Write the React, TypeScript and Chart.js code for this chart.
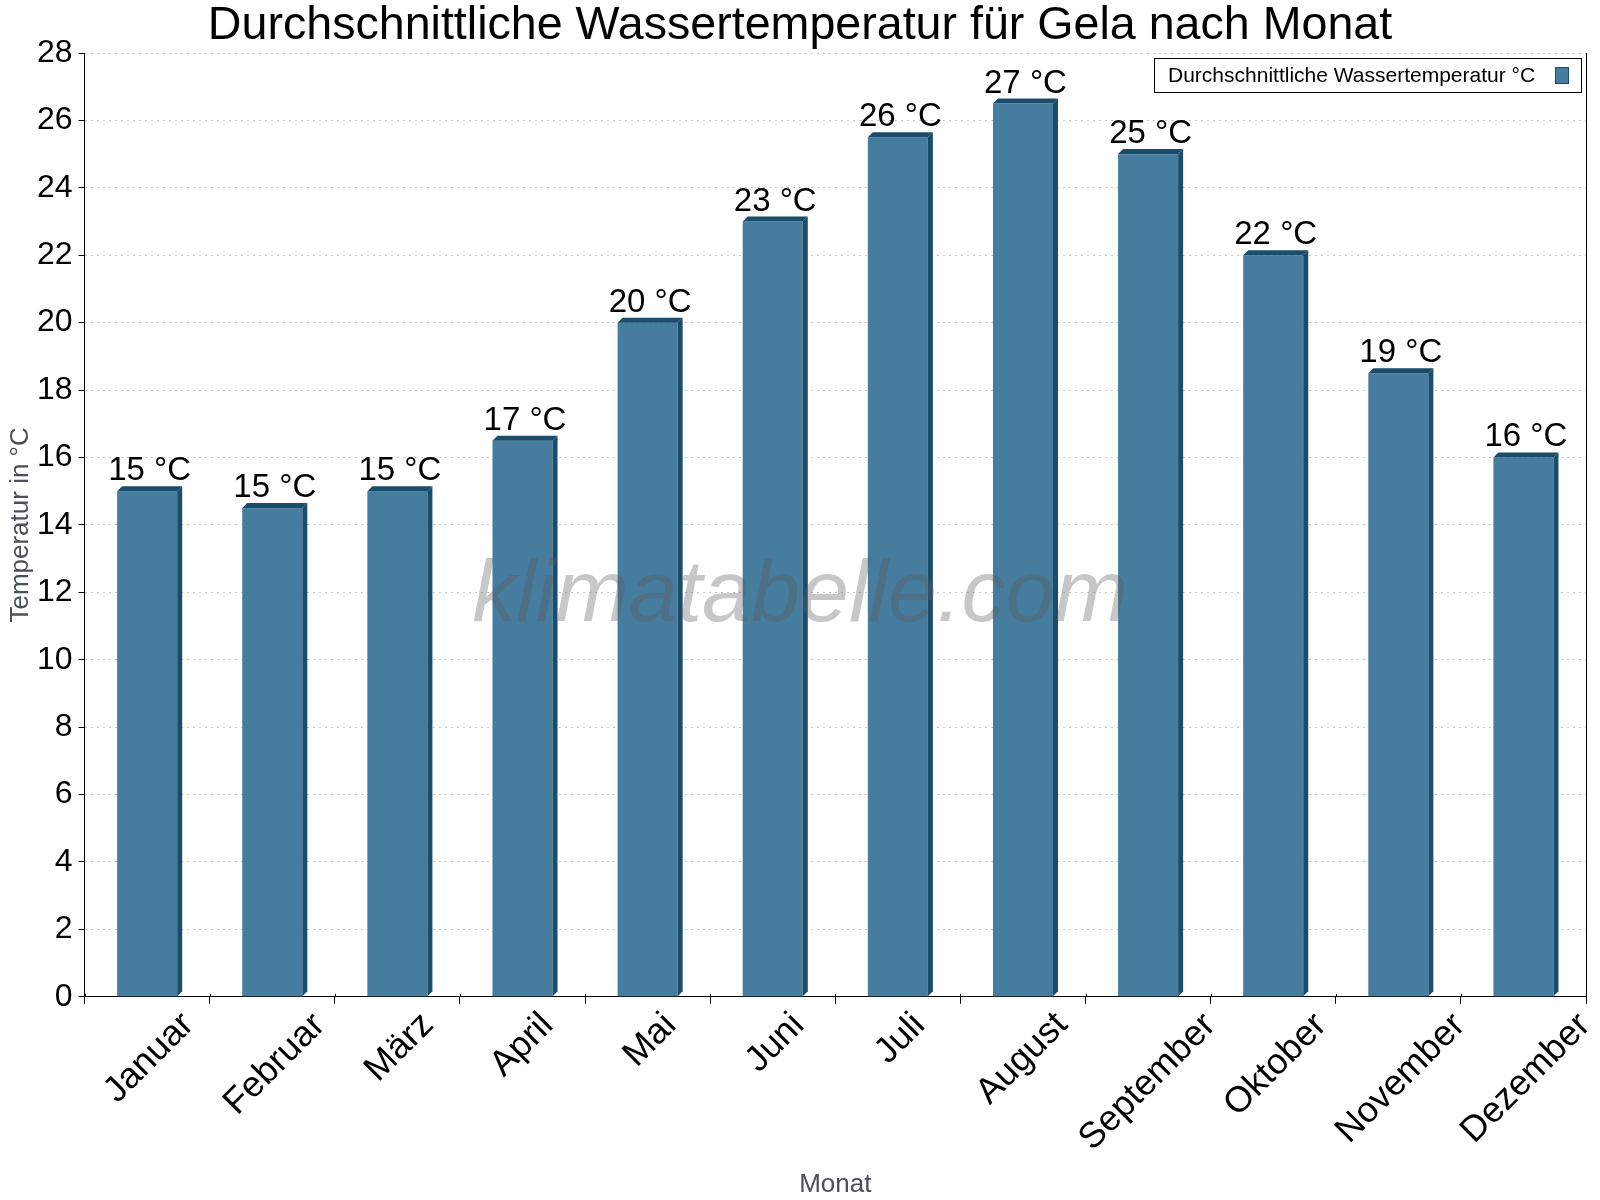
import React, { useEffect, useRef } from 'react';
import { Chart, registerables, ChartConfiguration, Plugin } from 'chart.js';

Chart.register(...registerables);

const months = [
  'Januar', 'Februar', 'März', 'April', 'Mai', 'Juni',
  'Juli', 'August', 'September', 'Oktober', 'November', 'Dezember',
];
const waterTemp = [15, 14.5, 15, 16.5, 20, 23, 25.5, 26.5, 25, 22, 18.5, 16];
const tempLabels = ['15 °C', '15 °C', '15 °C', '17 °C', '20 °C', '23 °C', '26 °C', '27 °C', '25 °C', '22 °C', '19 °C', '16 °C'];
const seriesName = 'Durchschnittliche Wassertemperatur °C';
const chartTitle = 'Durchschnittliche Wassertemperatur für Gela nach Monat';

const FACE = '#467c9e';
const DARK = '#1a4c6c';
const FONT = '"Liberation Sans", Arial, sans-serif';
const DEPTH = 5;
const S45 = Math.SQRT1_2;

// bars with a small 3D edge, value labels, watermark, legend, title, centred rotated month labels
const bar3d: Plugin<'bar'> = {
  id: 'bar3d',
  afterDatasetsDraw(chart) {
    const ctx = chart.ctx;
    const meta = chart.getDatasetMeta(0);
    const d = DEPTH;
    ctx.save();
    meta.data.forEach((el: any, i) => {
      const { x, y, base, width } = el.getProps(['x', 'y', 'base', 'width'], true);
      const l = x - width / 2;
      const r = x + width / 2;
      ctx.fillStyle = FACE;
      ctx.fillRect(l, y, width, base - y);
      ctx.fillStyle = DARK;
      ctx.beginPath();
      ctx.moveTo(l, y);
      ctx.lineTo(l + d, y - d);
      ctx.lineTo(r + d, y - d);
      ctx.lineTo(r, y);
      ctx.closePath();
      ctx.fill();
      ctx.beginPath();
      ctx.moveTo(r, y);
      ctx.lineTo(r + d, y - d);
      ctx.lineTo(r + d, base - d);
      ctx.lineTo(r, base);
      ctx.closePath();
      ctx.fill();

      ctx.fillStyle = '#000';
      ctx.font = `33px ${FONT}`;
      ctx.textAlign = 'center';
      ctx.textBaseline = 'alphabetic';
      ctx.fillText(tempLabels[i], x + d / 2, y - d - 6);
    });

    ctx.font = `italic 88px ${FONT}`;
    ctx.fillStyle = 'rgba(90,90,90,0.34)';
    ctx.textAlign = 'center';
    ctx.textBaseline = 'middle';
    ctx.fillText('klimatabelle.com', chart.width / 2, 597);
    ctx.restore();
  },
  afterDraw(chart) {
    const ctx = chart.ctx;
    const area = chart.chartArea;
    ctx.save();

    // title, centred on the whole canvas
    ctx.font = `46.6px ${FONT}`;
    ctx.fillStyle = '#000';
    ctx.textAlign = 'center';
    ctx.textBaseline = 'alphabetic';
    ctx.fillText(chartTitle, chart.width / 2, 39);

    // right frame line
    ctx.strokeStyle = '#000';
    ctx.lineWidth = 1;
    ctx.beginPath();
    ctx.moveTo(Math.round(area.right) + 0.5, area.top);
    ctx.lineTo(Math.round(area.right) + 0.5, area.bottom);
    ctx.stroke();

    // short inner part of the category tick marks
    const xScale = chart.scales.x;
    const step = (area.right - area.left) / months.length;
    ctx.beginPath();
    for (let i = 0; i <= months.length; i++) {
      const gx = Math.round(area.left + i * step) + 0.5;
      ctx.moveTo(gx, area.bottom - 3);
      ctx.lineTo(gx, area.bottom);
    }
    ctx.stroke();

    // month labels, rotated and centred under each bar
    ctx.font = `36px ${FONT}`;
    ctx.textAlign = 'left';
    months.forEach((m, i) => {
      const tx = xScale.getPixelForTick(i);
      const mt = ctx.measureText(m);
      const w = mt.width;
      const a = mt.actualBoundingBoxAscent;
      const dsc = mt.actualBoundingBoxDescent;
      const ox = tx - (S45 * (w + dsc - a)) / 2;
      const oy = area.bottom + 11 + S45 * (w + a);
      ctx.save();
      ctx.translate(ox, oy);
      ctx.rotate(-Math.PI / 4);
      ctx.fillText(m, 0, 0);
      ctx.restore();
    });

    // boxed legend
    ctx.font = `21px ${FONT}`;
    const bx = 1154;
    const bxRight = area.right - 5;
    const by = area.top + 5;
    const h = 34;
    ctx.fillStyle = '#fff';
    ctx.fillRect(bx, by, bxRight - bx, h);
    ctx.strokeStyle = '#000';
    ctx.strokeRect(bx + 0.5, by + 0.5, bxRight - bx, h);
    ctx.fillStyle = '#000';
    ctx.textBaseline = 'middle';
    ctx.fillText(seriesName, bx + 14, by + h / 2 + 1);
    ctx.fillStyle = FACE;
    ctx.fillRect(bxRight - 26, by + 9, 13, 16);
    ctx.strokeStyle = DARK;
    ctx.strokeRect(bxRight - 26 + 0.5, by + 9.5, 13, 16);
    ctx.restore();
  },
};

const WaterChart: React.FC = () => {
  const canvasRef = useRef<HTMLCanvasElement>(null);
  const chartRef = useRef<Chart | null>(null);

  useEffect(() => {
    chartRef.current?.destroy();
    const ctx = canvasRef.current!.getContext('2d');

    const config: ChartConfiguration<'bar'> = {
      type: 'bar',
      data: {
        labels: months,
        datasets: [
          {
            label: seriesName,
            data: waterTemp,
            backgroundColor: 'rgba(0,0,0,0)',
            borderWidth: 0,
            categoryPercentage: 1,
            barPercentage: 0.48,
          },
        ],
      },
      options: {
        animation: false,
        responsive: true,
        maintainAspectRatio: false,
        layout: { padding: { left: 0, right: 14, top: 53, bottom: 0 } },
        plugins: {
          legend: { display: false },
          tooltip: { enabled: false },
          title: { display: false },
        },
        scales: {
          x: {
            border: { color: '#000', width: 1 },
            grid: {
              drawOnChartArea: false,
              drawTicks: true,
              tickLength: 7,
              color: '#000',
              offset: true,
            },
            ticks: { display: false },
            title: {
              display: true,
              text: 'Monat',
              color: '#4a5058',
              font: { family: FONT, size: 26 },
              padding: { top: 165, bottom: 0 },
            },
          },
          y: {
            min: 0,
            max: 28,
            border: { color: '#000', width: 1, dash: [2, 4] },
            grid: {
              color: '#c4c4c4',
              tickColor: '#000',
              tickLength: 6,
              tickBorderDash: [],
            },
            ticks: {
              stepSize: 2,
              color: '#000',
              font: { family: FONT, size: 32 },
              padding: 6,
            },
            title: {
              display: true,
              text: 'Temperatur in °C',
              color: '#4a5058',
              font: { family: FONT, size: 26, lineHeight: 1 },
              padding: { top: 8, bottom: -3 },
            },
          },
        },
      },
      plugins: [bar3d],
    };

    chartRef.current = new Chart(ctx!, config);
    return () => {
      chartRef.current?.destroy();
      chartRef.current = null;
    };
  }, []);

  return <canvas ref={canvasRef} />;
};

export default function App() {
  return (
    <div style={{ position: 'absolute', left: 0, top: 0, width: 1600, height: 1200 }}>
      <WaterChart />
    </div>
  );
}
